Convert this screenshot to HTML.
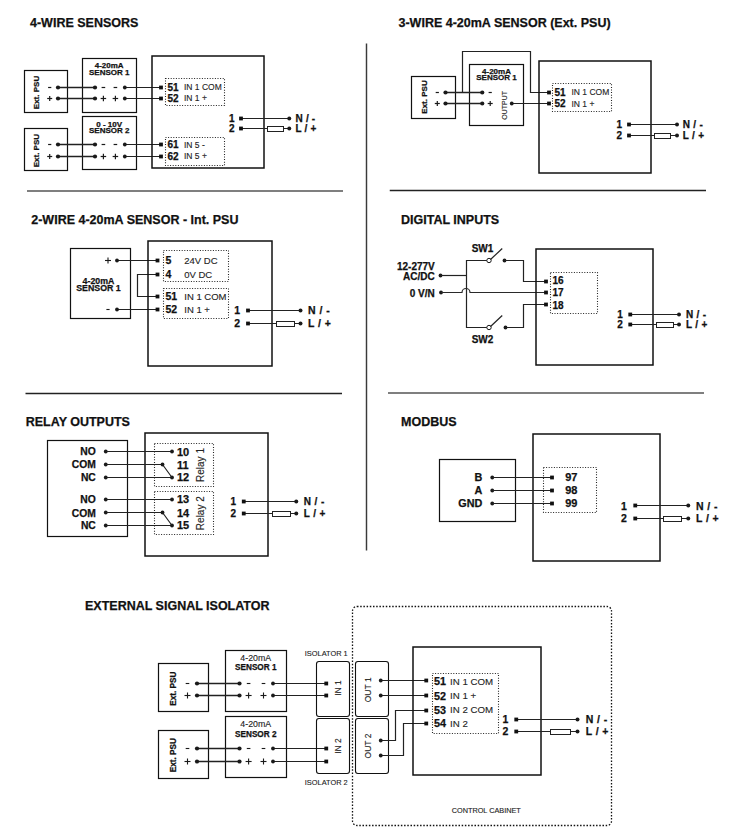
<!DOCTYPE html>
<html><head><meta charset="utf-8"><style>
html,body{margin:0;padding:0;background:#fff;}
body{width:732px;height:839px;overflow:hidden;}
svg{display:block;font-family:"Liberation Sans", sans-serif;}
</style></head><body>
<svg width="732" height="839" viewBox="0 0 732 839">
<text x="30" y="26.98" font-size="12.5" font-weight="bold" stroke="#111" stroke-width="0.25" fill="#111">4-WIRE SENSORS</text>
<rect x="24.5" y="70.5" width="43" height="42" fill="none" stroke="#111" stroke-width="1.2"/>
<text transform="translate(36.5,92.5) rotate(-90)" x="0" y="2.86" font-size="8" font-weight="bold" stroke="#111" stroke-width="0.25" text-anchor="middle" fill="#111">Ext. PSU</text>
<rect x="82.5" y="58.5" width="54" height="54" fill="none" stroke="#111" stroke-width="1.2"/>
<text x="109.2" y="68.46" font-size="8" font-weight="bold" stroke="#111" stroke-width="0.25" text-anchor="middle" fill="#111">4-20mA</text>
<text x="109.2" y="75.26" font-size="8" font-weight="bold" stroke="#111" stroke-width="0.25" text-anchor="middle" fill="#111">SENSOR 1</text>
<rect x="48.1" y="86.9" width="3.2" height="1.2" fill="#1a1a1a"/>
<rect x="47.2" y="97.9" width="5" height="1.2" fill="#1a1a1a"/>
<rect x="49.1" y="96" width="1.2" height="5" fill="#1a1a1a"/>
<rect x="101.6" y="86.9" width="3.6" height="1.2" fill="#1a1a1a"/>
<rect x="100.65" y="97.9" width="5.5" height="1.2" fill="#1a1a1a"/>
<rect x="102.8" y="95.75" width="1.2" height="5.5" fill="#1a1a1a"/>
<rect x="113.6" y="86.9" width="3.6" height="1.2" fill="#1a1a1a"/>
<rect x="112.65" y="97.9" width="5.5" height="1.2" fill="#1a1a1a"/>
<rect x="114.8" y="95.75" width="1.2" height="5.5" fill="#1a1a1a"/>
<polyline points="58,87.5 95,87.5" fill="none" stroke="#222" stroke-width="1.4" stroke-linejoin="miter"/>
<circle cx="58" cy="87.5" r="2.1" fill="#1a1a1a"/>
<circle cx="95" cy="87.5" r="2.1" fill="#1a1a1a"/>
<polyline points="124.8,87.5 161,87.5" fill="none" stroke="#222" stroke-width="1.2" stroke-linejoin="miter"/>
<circle cx="124.8" cy="87.5" r="1.9" fill="#1a1a1a"/>
<rect x="159.1" y="85.6" width="3.8" height="3.8" fill="#111"/>
<polyline points="58,98.5 95,98.5" fill="none" stroke="#222" stroke-width="1.4" stroke-linejoin="miter"/>
<circle cx="58" cy="98.5" r="2.1" fill="#1a1a1a"/>
<circle cx="95" cy="98.5" r="2.1" fill="#1a1a1a"/>
<polyline points="124.8,98.5 161,98.5" fill="none" stroke="#222" stroke-width="1.2" stroke-linejoin="miter"/>
<circle cx="124.8" cy="98.5" r="1.9" fill="#1a1a1a"/>
<rect x="159.1" y="96.6" width="3.8" height="3.8" fill="#111"/>
<rect x="165.5" y="78.5" width="59" height="27" fill="none" stroke="#222" stroke-width="1.1" stroke-dasharray="1 1.6"/>
<text x="167.5" y="90.88" font-size="10" font-weight="bold" stroke="#111" stroke-width="0.25" fill="#111">51</text>
<text x="184" y="90.34" font-size="8.5" stroke="#222" stroke-width="0.12" fill="#222">IN 1 COM</text>
<text x="167.5" y="101.58" font-size="10" font-weight="bold" stroke="#111" stroke-width="0.25" fill="#111">52</text>
<text x="184" y="101.04" font-size="8.5" stroke="#222" stroke-width="0.12" fill="#222">IN 1 +</text>
<rect x="24.5" y="128.5" width="43" height="42" fill="none" stroke="#111" stroke-width="1.2"/>
<text transform="translate(36.5,150.62) rotate(-90)" x="0" y="2.86" font-size="8" font-weight="bold" stroke="#111" stroke-width="0.25" text-anchor="middle" fill="#111">Ext. PSU</text>
<rect x="82.5" y="116.5" width="54" height="53" fill="none" stroke="#111" stroke-width="1.2"/>
<text x="109.2" y="127.06" font-size="8" font-weight="bold" stroke="#111" stroke-width="0.25" text-anchor="middle" fill="#111">0 - 10V</text>
<text x="109.2" y="133.26" font-size="8" font-weight="bold" stroke="#111" stroke-width="0.25" text-anchor="middle" fill="#111">SENSOR 2</text>
<rect x="48.1" y="143.9" width="3.2" height="1.2" fill="#1a1a1a"/>
<rect x="47.2" y="155.9" width="5" height="1.2" fill="#1a1a1a"/>
<rect x="49.1" y="154" width="1.2" height="5" fill="#1a1a1a"/>
<rect x="101.6" y="143.9" width="3.6" height="1.2" fill="#1a1a1a"/>
<rect x="100.65" y="155.9" width="5.5" height="1.2" fill="#1a1a1a"/>
<rect x="102.8" y="153.75" width="1.2" height="5.5" fill="#1a1a1a"/>
<rect x="113.6" y="143.9" width="3.6" height="1.2" fill="#1a1a1a"/>
<rect x="112.65" y="155.9" width="5.5" height="1.2" fill="#1a1a1a"/>
<rect x="114.8" y="153.75" width="1.2" height="5.5" fill="#1a1a1a"/>
<polyline points="58,144.5 95,144.5" fill="none" stroke="#222" stroke-width="1.4" stroke-linejoin="miter"/>
<circle cx="58" cy="144.5" r="2.1" fill="#1a1a1a"/>
<circle cx="95" cy="144.5" r="2.1" fill="#1a1a1a"/>
<polyline points="124.8,144.5 161,144.5" fill="none" stroke="#222" stroke-width="1.2" stroke-linejoin="miter"/>
<circle cx="124.8" cy="144.5" r="1.9" fill="#1a1a1a"/>
<rect x="159.1" y="142.6" width="3.8" height="3.8" fill="#111"/>
<polyline points="58,156.5 95,156.5" fill="none" stroke="#222" stroke-width="1.4" stroke-linejoin="miter"/>
<circle cx="58" cy="156.5" r="2.1" fill="#1a1a1a"/>
<circle cx="95" cy="156.5" r="2.1" fill="#1a1a1a"/>
<polyline points="124.8,156.5 161,156.5" fill="none" stroke="#222" stroke-width="1.2" stroke-linejoin="miter"/>
<circle cx="124.8" cy="156.5" r="1.9" fill="#1a1a1a"/>
<rect x="159.1" y="154.6" width="3.8" height="3.8" fill="#111"/>
<rect x="165.5" y="137.5" width="59" height="28" fill="none" stroke="#222" stroke-width="1.1" stroke-dasharray="1 1.6"/>
<text x="167.5" y="148.08" font-size="10" font-weight="bold" stroke="#111" stroke-width="0.25" fill="#111">61</text>
<text x="184" y="147.54" font-size="8.5" stroke="#222" stroke-width="0.12" fill="#222">IN 5 -</text>
<text x="167.5" y="159.58" font-size="10" font-weight="bold" stroke="#111" stroke-width="0.25" fill="#111">62</text>
<text x="184" y="159.04" font-size="8.5" stroke="#222" stroke-width="0.12" fill="#222">IN 5 +</text>
<rect x="152" y="56" width="112" height="112" fill="none" stroke="#111" stroke-width="1.5"/>
<text x="234.5" y="121.88" font-size="10" font-weight="bold" stroke="#111" stroke-width="0.25" text-anchor="end" fill="#111">1</text>
<polyline points="241,118.5 289.25,118.5" fill="none" stroke="#222" stroke-width="1.2" stroke-linejoin="miter"/>
<rect x="239.1" y="116.6" width="3.8" height="3.8" fill="#111"/>
<circle cx="289.25" cy="118.5" r="2" fill="#1a1a1a"/>
<text x="295.5" y="121.88" font-size="10" font-weight="bold" stroke="#111" stroke-width="0.25" fill="#111" letter-spacing="0.2">N / -</text>
<text x="234.5" y="132.38" font-size="10" font-weight="bold" stroke="#111" stroke-width="0.25" text-anchor="end" fill="#111">2</text>
<polyline points="241,128.5 289.25,128.5" fill="none" stroke="#222" stroke-width="1.2" stroke-linejoin="miter"/>
<rect x="239.1" y="126.6" width="3.8" height="3.8" fill="#111"/>
<rect x="267.5" y="126.5" width="16" height="5" fill="#fff" stroke="#222" stroke-width="1"/>
<circle cx="289.25" cy="128.5" r="2" fill="#1a1a1a"/>
<text x="295.5" y="132.38" font-size="10" font-weight="bold" stroke="#111" stroke-width="0.25" fill="#111" letter-spacing="0.2">L / +</text>
<polyline points="27,191 343,191" fill="none" stroke="#555" stroke-width="1.5" stroke-linejoin="miter"/>
<polyline points="366.5,43.5 366.5,550.5" fill="none" stroke="#3a3a3a" stroke-width="1.45" stroke-linejoin="miter"/>
<text x="398.5" y="26.98" font-size="12.5" font-weight="bold" stroke="#111" stroke-width="0.25" fill="#111">3-WIRE 4-20mA SENSOR (Ext. PSU)</text>
<rect x="411.5" y="76.5" width="44" height="42" fill="none" stroke="#111" stroke-width="1.2"/>
<text transform="translate(424,97) rotate(-90)" x="0" y="2.86" font-size="8" font-weight="bold" stroke="#111" stroke-width="0.25" text-anchor="middle" fill="#111">Ext. PSU</text>
<rect x="469.5" y="64.5" width="54" height="61" fill="none" stroke="#111" stroke-width="1.2"/>
<text x="496.5" y="74.36" font-size="8" font-weight="bold" stroke="#111" stroke-width="0.25" text-anchor="middle" fill="#111">4-20mA</text>
<text x="496.5" y="79.86" font-size="8" font-weight="bold" stroke="#111" stroke-width="0.25" text-anchor="middle" fill="#111">SENSOR 1</text>
<rect x="435.7" y="91.9" width="3.2" height="1.2" fill="#1a1a1a"/>
<rect x="434.8" y="102.9" width="5" height="1.2" fill="#1a1a1a"/>
<rect x="436.7" y="101" width="1.2" height="5" fill="#1a1a1a"/>
<rect x="488.6" y="91.9" width="3.2" height="1.2" fill="#1a1a1a"/>
<rect x="487.7" y="102.9" width="5" height="1.2" fill="#1a1a1a"/>
<rect x="489.6" y="101" width="1.2" height="5" fill="#1a1a1a"/>
<polyline points="445.5,92.5 482.25,92.5" fill="none" stroke="#222" stroke-width="1.4" stroke-linejoin="miter"/>
<polyline points="445.5,103.5 482.25,103.5" fill="none" stroke="#222" stroke-width="1.4" stroke-linejoin="miter"/>
<circle cx="445.5" cy="92.5" r="2.1" fill="#1a1a1a"/>
<circle cx="482.25" cy="92.5" r="2.1" fill="#1a1a1a"/>
<circle cx="445.5" cy="103.5" r="2.1" fill="#1a1a1a"/>
<circle cx="482.25" cy="103.5" r="2.1" fill="#1a1a1a"/>
<polyline points="462.5,92.5 462.5,51.5 530.5,51.5 530.5,92.5 549,92.5" fill="none" stroke="#222" stroke-width="1.2" stroke-linejoin="miter"/>
<text transform="translate(504.5,105.4) rotate(-90)" x="0" y="2.51" font-size="7" stroke="#222" stroke-width="0.12" text-anchor="middle" fill="#222">OUTPUT</text>
<polyline points="511.75,103.5 549,103.5" fill="none" stroke="#222" stroke-width="1.2" stroke-linejoin="miter"/>
<circle cx="511.75" cy="103.5" r="1.9" fill="#1a1a1a"/>
<rect x="547.1" y="90.6" width="3.8" height="3.8" fill="#111"/>
<rect x="547.1" y="101.6" width="3.8" height="3.8" fill="#111"/>
<rect x="539" y="61" width="112" height="112" fill="none" stroke="#111" stroke-width="1.5"/>
<rect x="552.5" y="83.5" width="59" height="28" fill="none" stroke="#222" stroke-width="1.1" stroke-dasharray="1 1.6"/>
<text x="554.5" y="95.98" font-size="10" font-weight="bold" stroke="#111" stroke-width="0.25" fill="#111">51</text>
<text x="571.5" y="95.44" font-size="8.5" stroke="#222" stroke-width="0.12" fill="#222">IN 1 COM</text>
<text x="554.5" y="107.18" font-size="10" font-weight="bold" stroke="#111" stroke-width="0.25" fill="#111">52</text>
<text x="571.5" y="106.64" font-size="8.5" stroke="#222" stroke-width="0.12" fill="#222">IN 1 +</text>
<text x="622" y="127.78" font-size="10" font-weight="bold" stroke="#111" stroke-width="0.25" text-anchor="end" fill="#111">1</text>
<polyline points="629,124.5 677,124.5" fill="none" stroke="#222" stroke-width="1.2" stroke-linejoin="miter"/>
<rect x="627.1" y="122.6" width="3.8" height="3.8" fill="#111"/>
<circle cx="677" cy="124.5" r="2" fill="#1a1a1a"/>
<text x="682.75" y="127.78" font-size="10" font-weight="bold" stroke="#111" stroke-width="0.25" fill="#111" letter-spacing="0.3">N / -</text>
<text x="622" y="139.08" font-size="10" font-weight="bold" stroke="#111" stroke-width="0.25" text-anchor="end" fill="#111">2</text>
<polyline points="629,135.5 677,135.5" fill="none" stroke="#222" stroke-width="1.2" stroke-linejoin="miter"/>
<rect x="627.1" y="133.6" width="3.8" height="3.8" fill="#111"/>
<rect x="654.5" y="133.5" width="16" height="5" fill="#fff" stroke="#222" stroke-width="1"/>
<circle cx="677" cy="135.5" r="2" fill="#1a1a1a"/>
<text x="682.75" y="139.08" font-size="10" font-weight="bold" stroke="#111" stroke-width="0.25" fill="#111" letter-spacing="0.3">L / +</text>
<polyline points="389.75,190.5 706,190.5" fill="none" stroke="#222" stroke-width="1.3" stroke-linejoin="miter"/>
<text x="31.25" y="224.07" font-size="12.5" font-weight="bold" stroke="#111" stroke-width="0.25" fill="#111">2-WIRE 4-20mA SENSOR - Int. PSU</text>
<rect x="70.5" y="248.5" width="60" height="70" fill="none" stroke="#111" stroke-width="1.2"/>
<text x="98.5" y="283.65" font-size="8.8" font-weight="bold" stroke="#111" stroke-width="0.25" text-anchor="middle" fill="#111">4-20mA</text>
<text x="98.5" y="291.15" font-size="8.8" font-weight="bold" stroke="#111" stroke-width="0.25" text-anchor="middle" fill="#111">SENSOR 1</text>
<rect x="106.4" y="308.95" width="3.2" height="1.1" fill="#1a1a1a"/>
<rect x="105" y="259.95" width="6" height="1.1" fill="#1a1a1a"/>
<rect x="107.45" y="257.5" width="1.1" height="6" fill="#1a1a1a"/>
<polyline points="117,260.5 157.5,260.5" fill="none" stroke="#222" stroke-width="1.2" stroke-linejoin="miter"/>
<circle cx="117" cy="260.5" r="1.9" fill="#1a1a1a"/>
<rect x="155.6" y="258.6" width="3.8" height="3.8" fill="#111"/>
<polyline points="117,309.5 157.5,309.5" fill="none" stroke="#222" stroke-width="1.2" stroke-linejoin="miter"/>
<circle cx="117" cy="309.5" r="1.9" fill="#1a1a1a"/>
<rect x="155.6" y="307.6" width="3.8" height="3.8" fill="#111"/>
<polyline points="157.5,274.5 137.5,274.5 137.5,296.5 157.5,296.5" fill="none" stroke="#222" stroke-width="1.2" stroke-linejoin="miter"/>
<rect x="155.6" y="272.6" width="3.8" height="3.8" fill="#111"/>
<rect x="155.6" y="294.6" width="3.8" height="3.8" fill="#111"/>
<rect x="148" y="241" width="124" height="125" fill="none" stroke="#111" stroke-width="1.5"/>
<rect x="163.5" y="250.5" width="65" height="31" fill="none" stroke="#222" stroke-width="1.1" stroke-dasharray="1 1.6"/>
<rect x="163.5" y="288.5" width="65" height="30" fill="none" stroke="#222" stroke-width="1.1" stroke-dasharray="1 1.6"/>
<text x="165.5" y="263.96" font-size="10.5" font-weight="bold" stroke="#111" stroke-width="0.25" fill="#111">5</text>
<text x="184.25" y="263.6" font-size="9.5" stroke="#222" stroke-width="0.12" fill="#222">24V DC</text>
<text x="165.5" y="277.96" font-size="10.5" font-weight="bold" stroke="#111" stroke-width="0.25" fill="#111">4</text>
<text x="184.25" y="277.6" font-size="9.5" stroke="#222" stroke-width="0.12" fill="#222">0V DC</text>
<text x="165.5" y="299.96" font-size="10.5" font-weight="bold" stroke="#111" stroke-width="0.25" fill="#111">51</text>
<text x="184.25" y="299.6" font-size="9.5" stroke="#222" stroke-width="0.12" fill="#222">IN 1 COM</text>
<text x="165.5" y="313.36" font-size="10.5" font-weight="bold" stroke="#111" stroke-width="0.25" fill="#111">52</text>
<text x="184.25" y="313" font-size="9.5" stroke="#222" stroke-width="0.12" fill="#222">IN 1 +</text>
<text x="240" y="314.26" font-size="10.5" font-weight="bold" stroke="#111" stroke-width="0.25" text-anchor="end" fill="#111">1</text>
<polyline points="248,310.5 300.5,310.5" fill="none" stroke="#222" stroke-width="1.2" stroke-linejoin="miter"/>
<rect x="246.1" y="308.6" width="3.8" height="3.8" fill="#111"/>
<circle cx="300.5" cy="310.5" r="2" fill="#1a1a1a"/>
<text x="308" y="314.26" font-size="10.5" font-weight="bold" stroke="#111" stroke-width="0.25" fill="#111" letter-spacing="0.45">N / -</text>
<text x="240" y="326.76" font-size="10.5" font-weight="bold" stroke="#111" stroke-width="0.25" text-anchor="end" fill="#111">2</text>
<polyline points="248,323.5 300.5,323.5" fill="none" stroke="#222" stroke-width="1.2" stroke-linejoin="miter"/>
<rect x="246.1" y="321.6" width="3.8" height="3.8" fill="#111"/>
<rect x="276.5" y="321.5" width="18" height="5" fill="#fff" stroke="#222" stroke-width="1"/>
<circle cx="300.5" cy="323.5" r="2" fill="#1a1a1a"/>
<text x="308" y="326.76" font-size="10.5" font-weight="bold" stroke="#111" stroke-width="0.25" fill="#111" letter-spacing="0.45">L / +</text>
<polyline points="25.5,393.5 342,393.5" fill="none" stroke="#222" stroke-width="1.3" stroke-linejoin="miter"/>
<text x="401" y="223.97" font-size="12.5" font-weight="bold" stroke="#111" stroke-width="0.25" fill="#111">DIGITAL INPUTS</text>
<text x="482.5" y="251.83" font-size="10" font-weight="bold" stroke="#111" stroke-width="0.25" text-anchor="middle" fill="#111">SW1</text>
<text x="482.5" y="343.08" font-size="10" font-weight="bold" stroke="#111" stroke-width="0.25" text-anchor="middle" fill="#111">SW2</text>
<text x="434.75" y="270.08" font-size="10" font-weight="bold" stroke="#111" stroke-width="0.25" text-anchor="end" fill="#111">12-277V</text>
<text x="434.75" y="280.08" font-size="10" font-weight="bold" stroke="#111" stroke-width="0.25" text-anchor="end" fill="#111">AC/DC</text>
<text x="434.75" y="296.88" font-size="10" font-weight="bold" stroke="#111" stroke-width="0.25" text-anchor="end" fill="#111">0 V/N</text>
<circle cx="440.5" cy="275.5" r="1.9" fill="#1a1a1a"/>
<polyline points="440.5,275.5 466,275.5" fill="none" stroke="#222" stroke-width="1.2" stroke-linejoin="miter"/>
<polyline points="488.5,260.5 466.5,260.5 466.5,327.5 488.5,327.5" fill="none" stroke="#222" stroke-width="1.2" stroke-linejoin="miter"/>
<circle cx="489" cy="260.5" r="2.2" fill="#fff" stroke="#1a1a1a" stroke-width="1"/>
<polyline points="490.5,259.5 502.25,248.5" fill="none" stroke="#222" stroke-width="1.2" stroke-linejoin="miter"/>
<circle cx="504.5" cy="260.5" r="1.9" fill="#1a1a1a"/>
<polyline points="504.5,260.5 523.5,260.5 523.5,281.5 546,281.5" fill="none" stroke="#222" stroke-width="1.2" stroke-linejoin="miter"/>
<circle cx="489" cy="327.5" r="2.2" fill="#fff" stroke="#1a1a1a" stroke-width="1"/>
<polyline points="490.5,326.5 502.25,315.5" fill="none" stroke="#222" stroke-width="1.2" stroke-linejoin="miter"/>
<circle cx="505.5" cy="327.5" r="1.9" fill="#1a1a1a"/>
<polyline points="505.5,327.5 523.5,327.5 523.5,304.5 546,304.5" fill="none" stroke="#222" stroke-width="1.2" stroke-linejoin="miter"/>
<circle cx="441" cy="292.5" r="1.9" fill="#1a1a1a"/>
<path d="M441,292.5 L462,292.5 A4,4 0 0 1 470,292.5 L546,292.5" fill="none" stroke="#2a2a2a" stroke-width="1.2"/>
<rect x="544.1" y="279.6" width="3.8" height="3.8" fill="#111"/>
<rect x="544.1" y="290.6" width="3.8" height="3.8" fill="#111"/>
<rect x="544.1" y="302.6" width="3.8" height="3.8" fill="#111"/>
<rect x="536" y="249" width="117" height="116" fill="none" stroke="#111" stroke-width="1.5"/>
<rect x="550.5" y="272.5" width="47" height="41" fill="none" stroke="#222" stroke-width="1.1" stroke-dasharray="1 1.6"/>
<text x="552.5" y="284.08" font-size="10" font-weight="bold" stroke="#111" stroke-width="0.25" fill="#111">16</text>
<text x="552.5" y="296.08" font-size="10" font-weight="bold" stroke="#111" stroke-width="0.25" fill="#111">17</text>
<text x="552.5" y="308.58" font-size="10" font-weight="bold" stroke="#111" stroke-width="0.25" fill="#111">18</text>
<text x="622.75" y="317.88" font-size="10" font-weight="bold" stroke="#111" stroke-width="0.25" text-anchor="end" fill="#111">1</text>
<polyline points="630.25,314.5 679,314.5" fill="none" stroke="#222" stroke-width="1.2" stroke-linejoin="miter"/>
<rect x="628.35" y="312.6" width="3.8" height="3.8" fill="#111"/>
<circle cx="679" cy="314.5" r="2" fill="#1a1a1a"/>
<text x="686" y="317.88" font-size="10" font-weight="bold" stroke="#111" stroke-width="0.25" fill="#111" letter-spacing="0.3">N / -</text>
<text x="622.75" y="328.38" font-size="10" font-weight="bold" stroke="#111" stroke-width="0.25" text-anchor="end" fill="#111">2</text>
<polyline points="630.25,324.5 679,324.5" fill="none" stroke="#222" stroke-width="1.2" stroke-linejoin="miter"/>
<rect x="628.35" y="322.6" width="3.8" height="3.8" fill="#111"/>
<rect x="656.5" y="322.5" width="17" height="5" fill="#fff" stroke="#222" stroke-width="1"/>
<circle cx="679" cy="324.5" r="2" fill="#1a1a1a"/>
<text x="686" y="328.38" font-size="10" font-weight="bold" stroke="#111" stroke-width="0.25" fill="#111" letter-spacing="0.3">L / +</text>
<polyline points="388,393 704,393" fill="none" stroke="#555" stroke-width="1.5" stroke-linejoin="miter"/>
<text x="25.75" y="426.08" font-size="12.5" font-weight="bold" stroke="#111" stroke-width="0.25" fill="#111">RELAY OUTPUTS</text>
<rect x="47.5" y="440.5" width="80" height="96" fill="none" stroke="#111" stroke-width="1.2"/>
<rect x="145" y="433" width="123" height="123" fill="none" stroke="#111" stroke-width="1.5"/>
<rect x="154.5" y="443.5" width="59" height="43" fill="none" stroke="#222" stroke-width="1.1" stroke-dasharray="1 1.6"/>
<rect x="154.5" y="491.5" width="59" height="43" fill="none" stroke="#222" stroke-width="1.1" stroke-dasharray="1 1.6"/>
<text x="95.75" y="455.39" font-size="10.3" font-weight="bold" stroke="#111" stroke-width="0.25" text-anchor="end" fill="#111">NO</text>
<circle cx="105.75" cy="451.5" r="1.9" fill="#1a1a1a"/>
<text x="177" y="455.64" font-size="11" font-weight="bold" stroke="#111" stroke-width="0.25" fill="#111">10</text>
<text x="95.75" y="468.49" font-size="10.3" font-weight="bold" stroke="#111" stroke-width="0.25" text-anchor="end" fill="#111">COM</text>
<circle cx="105.75" cy="464.5" r="1.9" fill="#1a1a1a"/>
<text x="177" y="468.74" font-size="11" font-weight="bold" stroke="#111" stroke-width="0.25" fill="#111">11</text>
<text x="95.75" y="480.99" font-size="10.3" font-weight="bold" stroke="#111" stroke-width="0.25" text-anchor="end" fill="#111">NC</text>
<circle cx="105.75" cy="477.5" r="1.9" fill="#1a1a1a"/>
<text x="177" y="481.24" font-size="11" font-weight="bold" stroke="#111" stroke-width="0.25" fill="#111">12</text>
<polyline points="105.75,451.5 172,451.5" fill="none" stroke="#222" stroke-width="1.2" stroke-linejoin="miter"/>
<circle cx="172" cy="451.5" r="1.9" fill="#1a1a1a"/>
<polyline points="105.75,464.5 162.5,464.5 172,477.5" fill="none" stroke="#222" stroke-width="1.2" stroke-linejoin="miter"/>
<circle cx="162.5" cy="464.5" r="1.9" fill="#1a1a1a"/>
<polyline points="105.75,477.5 172,477.5" fill="none" stroke="#222" stroke-width="1.2" stroke-linejoin="miter"/>
<circle cx="172" cy="477.5" r="1.9" fill="#1a1a1a"/>
<text x="95.75" y="503.19" font-size="10.3" font-weight="bold" stroke="#111" stroke-width="0.25" text-anchor="end" fill="#111">NO</text>
<circle cx="105.75" cy="499.5" r="1.9" fill="#1a1a1a"/>
<text x="177" y="503.44" font-size="11" font-weight="bold" stroke="#111" stroke-width="0.25" fill="#111">13</text>
<text x="95.75" y="516.59" font-size="10.3" font-weight="bold" stroke="#111" stroke-width="0.25" text-anchor="end" fill="#111">COM</text>
<circle cx="105.75" cy="512.5" r="1.9" fill="#1a1a1a"/>
<text x="177" y="516.84" font-size="11" font-weight="bold" stroke="#111" stroke-width="0.25" fill="#111">14</text>
<text x="95.75" y="528.89" font-size="10.3" font-weight="bold" stroke="#111" stroke-width="0.25" text-anchor="end" fill="#111">NC</text>
<circle cx="105.75" cy="525.5" r="1.9" fill="#1a1a1a"/>
<text x="177" y="529.14" font-size="11" font-weight="bold" stroke="#111" stroke-width="0.25" fill="#111">15</text>
<polyline points="105.75,499.5 172,499.5" fill="none" stroke="#222" stroke-width="1.2" stroke-linejoin="miter"/>
<circle cx="172" cy="499.5" r="1.9" fill="#1a1a1a"/>
<polyline points="105.75,512.5 162.5,512.5 172,525.5" fill="none" stroke="#222" stroke-width="1.2" stroke-linejoin="miter"/>
<circle cx="162.5" cy="512.5" r="1.9" fill="#1a1a1a"/>
<polyline points="105.75,525.5 172,525.5" fill="none" stroke="#222" stroke-width="1.2" stroke-linejoin="miter"/>
<circle cx="172" cy="525.5" r="1.9" fill="#1a1a1a"/>
<text transform="translate(200.75,465) rotate(-90)" x="0" y="3.58" font-size="10" stroke="#222" stroke-width="0.12" text-anchor="middle" fill="#222">Relay 1</text>
<text transform="translate(200.75,513.2) rotate(-90)" x="0" y="3.58" font-size="10" stroke="#222" stroke-width="0.12" text-anchor="middle" fill="#222">Relay 2</text>
<text x="236" y="505.08" font-size="10" font-weight="bold" stroke="#111" stroke-width="0.25" text-anchor="end" fill="#111">1</text>
<polyline points="243.75,501.5 296.25,501.5" fill="none" stroke="#222" stroke-width="1.2" stroke-linejoin="miter"/>
<rect x="241.85" y="499.6" width="3.8" height="3.8" fill="#111"/>
<circle cx="296.25" cy="501.5" r="2" fill="#1a1a1a"/>
<text x="303.75" y="505.08" font-size="10" font-weight="bold" stroke="#111" stroke-width="0.25" fill="#111" letter-spacing="0.4">N / -</text>
<text x="236" y="517.38" font-size="10" font-weight="bold" stroke="#111" stroke-width="0.25" text-anchor="end" fill="#111">2</text>
<polyline points="243.75,513.5 296.25,513.5" fill="none" stroke="#222" stroke-width="1.2" stroke-linejoin="miter"/>
<rect x="241.85" y="511.6" width="3.8" height="3.8" fill="#111"/>
<rect x="272.5" y="511.5" width="18" height="5" fill="#fff" stroke="#222" stroke-width="1"/>
<circle cx="296.25" cy="513.5" r="2" fill="#1a1a1a"/>
<text x="303.75" y="517.38" font-size="10" font-weight="bold" stroke="#111" stroke-width="0.25" fill="#111" letter-spacing="0.4">L / +</text>
<text x="401" y="425.98" font-size="12.5" font-weight="bold" stroke="#111" stroke-width="0.25" fill="#111">MODBUS</text>
<rect x="439.5" y="459.5" width="76" height="62" fill="none" stroke="#111" stroke-width="1.2"/>
<rect x="533" y="434" width="127" height="127" fill="none" stroke="#111" stroke-width="1.5"/>
<rect x="543.5" y="467.5" width="53" height="45" fill="none" stroke="#222" stroke-width="1.1" stroke-dasharray="1 1.6"/>
<text x="482.25" y="480.87" font-size="10.8" font-weight="bold" stroke="#111" stroke-width="0.25" text-anchor="end" fill="#111">B</text>
<circle cx="492.25" cy="477.5" r="1.9" fill="#1a1a1a"/>
<polyline points="492.25,477.5 552,477.5" fill="none" stroke="#222" stroke-width="1.2" stroke-linejoin="miter"/>
<rect x="550.1" y="475.6" width="3.8" height="3.8" fill="#111"/>
<text x="565.25" y="480.94" font-size="11" font-weight="bold" stroke="#111" stroke-width="0.25" fill="#111">97</text>
<text x="482.25" y="493.87" font-size="10.8" font-weight="bold" stroke="#111" stroke-width="0.25" text-anchor="end" fill="#111">A</text>
<circle cx="492.25" cy="490.5" r="1.9" fill="#1a1a1a"/>
<polyline points="492.25,490.5 552,490.5" fill="none" stroke="#222" stroke-width="1.2" stroke-linejoin="miter"/>
<rect x="550.1" y="488.6" width="3.8" height="3.8" fill="#111"/>
<text x="565.25" y="493.94" font-size="11" font-weight="bold" stroke="#111" stroke-width="0.25" fill="#111">98</text>
<text x="482.25" y="507.12" font-size="10.8" font-weight="bold" stroke="#111" stroke-width="0.25" text-anchor="end" fill="#111">GND</text>
<circle cx="492.25" cy="503.5" r="1.9" fill="#1a1a1a"/>
<polyline points="492.25,503.5 552,503.5" fill="none" stroke="#222" stroke-width="1.2" stroke-linejoin="miter"/>
<rect x="550.1" y="501.6" width="3.8" height="3.8" fill="#111"/>
<text x="565.25" y="507.19" font-size="11" font-weight="bold" stroke="#111" stroke-width="0.25" fill="#111">99</text>
<text x="626.75" y="509.56" font-size="10.5" font-weight="bold" stroke="#111" stroke-width="0.25" text-anchor="end" fill="#111">1</text>
<polyline points="635.25,505.5 688.25,505.5" fill="none" stroke="#222" stroke-width="1.2" stroke-linejoin="miter"/>
<rect x="633.35" y="503.6" width="3.8" height="3.8" fill="#111"/>
<circle cx="688.25" cy="505.5" r="2" fill="#1a1a1a"/>
<text x="696" y="509.56" font-size="10.5" font-weight="bold" stroke="#111" stroke-width="0.25" fill="#111" letter-spacing="0.4">N / -</text>
<text x="626.75" y="522.06" font-size="10.5" font-weight="bold" stroke="#111" stroke-width="0.25" text-anchor="end" fill="#111">2</text>
<polyline points="635.25,518.5 688.25,518.5" fill="none" stroke="#222" stroke-width="1.2" stroke-linejoin="miter"/>
<rect x="633.35" y="516.6" width="3.8" height="3.8" fill="#111"/>
<rect x="663.5" y="516.5" width="18" height="5" fill="#fff" stroke="#222" stroke-width="1"/>
<circle cx="688.25" cy="518.5" r="2" fill="#1a1a1a"/>
<text x="696" y="522.06" font-size="10.5" font-weight="bold" stroke="#111" stroke-width="0.25" fill="#111" letter-spacing="0.4">L / +</text>
<text x="85" y="609.98" font-size="12.5" font-weight="bold" stroke="#111" stroke-width="0.25" fill="#111">EXTERNAL SIGNAL ISOLATOR</text>
<rect x="352.5" y="606.5" width="259" height="219" rx="4.5" fill="none" stroke="#111" stroke-width="1.3" stroke-dasharray="1.5 1.7"/>
<text x="486.25" y="813.11" font-size="7.3" stroke="#222" stroke-width="0.12" text-anchor="middle" fill="#222">CONTROL CABINET</text>
<rect x="158.5" y="663.5" width="50" height="48" fill="none" stroke="#111" stroke-width="1.2"/>
<text transform="translate(173,688.75) rotate(-90)" x="0" y="2.94" font-size="8.2" font-weight="bold" stroke="#111" stroke-width="0.25" text-anchor="middle" fill="#111">Ext. PSU</text>
<rect x="225.5" y="650.5" width="61" height="61" fill="none" stroke="#111" stroke-width="1.2"/>
<text x="255.75" y="661.4" font-size="8.8" stroke="#222" stroke-width="0.12" text-anchor="middle" fill="#222">4-20mA</text>
<text x="255.75" y="669.89" font-size="8.2" font-weight="bold" stroke="#111" stroke-width="0.25" text-anchor="middle" fill="#111">SENSOR 1</text>
<rect x="185.7" y="682.95" width="3.6" height="1.1" fill="#1a1a1a"/>
<rect x="184.5" y="694.95" width="6" height="1.1" fill="#1a1a1a"/>
<rect x="186.95" y="692.5" width="1.1" height="6" fill="#1a1a1a"/>
<rect x="246.8" y="682.95" width="3.6" height="1.1" fill="#1a1a1a"/>
<rect x="245.6" y="694.95" width="6" height="1.1" fill="#1a1a1a"/>
<rect x="248.05" y="692.5" width="1.1" height="6" fill="#1a1a1a"/>
<rect x="261.7" y="682.95" width="3.6" height="1.1" fill="#1a1a1a"/>
<rect x="260.5" y="694.95" width="6" height="1.1" fill="#1a1a1a"/>
<rect x="262.95" y="692.5" width="1.1" height="6" fill="#1a1a1a"/>
<polyline points="197,683.5 239.5,683.5" fill="none" stroke="#222" stroke-width="1.4" stroke-linejoin="miter"/>
<circle cx="197" cy="683.5" r="2.1" fill="#1a1a1a"/>
<circle cx="239.5" cy="683.5" r="2.1" fill="#1a1a1a"/>
<polyline points="273,683.5 326.25,683.5" fill="none" stroke="#222" stroke-width="1.2" stroke-linejoin="miter"/>
<circle cx="273" cy="683.5" r="1.9" fill="#1a1a1a"/>
<rect x="324.35" y="681.6" width="3.8" height="3.8" fill="#111"/>
<polyline points="197,695.5 239.5,695.5" fill="none" stroke="#222" stroke-width="1.4" stroke-linejoin="miter"/>
<circle cx="197" cy="695.5" r="2.1" fill="#1a1a1a"/>
<circle cx="239.5" cy="695.5" r="2.1" fill="#1a1a1a"/>
<polyline points="273,695.5 326.25,695.5" fill="none" stroke="#222" stroke-width="1.2" stroke-linejoin="miter"/>
<circle cx="273" cy="695.5" r="1.9" fill="#1a1a1a"/>
<rect x="324.35" y="693.6" width="3.8" height="3.8" fill="#111"/>
<rect x="316.5" y="661.5" width="33" height="55" fill="none" stroke="#111" stroke-width="1.1" rx="2.5"/>
<rect x="355.5" y="661.5" width="33" height="55" fill="none" stroke="#111" stroke-width="1.1" rx="2.5"/>
<text x="326.25" y="655.9" font-size="7.4" stroke="#222" stroke-width="0.12" text-anchor="middle" fill="#222">ISOLATOR 1</text>
<rect x="158.5" y="730.5" width="50" height="48" fill="none" stroke="#111" stroke-width="1.2"/>
<text transform="translate(173,755.12) rotate(-90)" x="0" y="2.94" font-size="8.2" font-weight="bold" stroke="#111" stroke-width="0.25" text-anchor="middle" fill="#111">Ext. PSU</text>
<rect x="225.5" y="716.5" width="61" height="61" fill="none" stroke="#111" stroke-width="1.2"/>
<text x="255.75" y="727.4" font-size="8.8" stroke="#222" stroke-width="0.12" text-anchor="middle" fill="#222">4-20mA</text>
<text x="255.75" y="737.29" font-size="8.2" font-weight="bold" stroke="#111" stroke-width="0.25" text-anchor="middle" fill="#111">SENSOR 2</text>
<rect x="185.7" y="747.95" width="3.6" height="1.1" fill="#1a1a1a"/>
<rect x="184.5" y="760.95" width="6" height="1.1" fill="#1a1a1a"/>
<rect x="186.95" y="758.5" width="1.1" height="6" fill="#1a1a1a"/>
<rect x="246.8" y="747.95" width="3.6" height="1.1" fill="#1a1a1a"/>
<rect x="245.6" y="760.95" width="6" height="1.1" fill="#1a1a1a"/>
<rect x="248.05" y="758.5" width="1.1" height="6" fill="#1a1a1a"/>
<rect x="261.7" y="747.95" width="3.6" height="1.1" fill="#1a1a1a"/>
<rect x="260.5" y="760.95" width="6" height="1.1" fill="#1a1a1a"/>
<rect x="262.95" y="758.5" width="1.1" height="6" fill="#1a1a1a"/>
<polyline points="197,748.5 239.5,748.5" fill="none" stroke="#222" stroke-width="1.4" stroke-linejoin="miter"/>
<circle cx="197" cy="748.5" r="2.1" fill="#1a1a1a"/>
<circle cx="239.5" cy="748.5" r="2.1" fill="#1a1a1a"/>
<polyline points="273,748.5 326.25,748.5" fill="none" stroke="#222" stroke-width="1.2" stroke-linejoin="miter"/>
<circle cx="273" cy="748.5" r="1.9" fill="#1a1a1a"/>
<rect x="324.35" y="746.6" width="3.8" height="3.8" fill="#111"/>
<polyline points="197,761.5 239.5,761.5" fill="none" stroke="#222" stroke-width="1.4" stroke-linejoin="miter"/>
<circle cx="197" cy="761.5" r="2.1" fill="#1a1a1a"/>
<circle cx="239.5" cy="761.5" r="2.1" fill="#1a1a1a"/>
<polyline points="273,761.5 326.25,761.5" fill="none" stroke="#222" stroke-width="1.2" stroke-linejoin="miter"/>
<circle cx="273" cy="761.5" r="1.9" fill="#1a1a1a"/>
<rect x="324.35" y="759.6" width="3.8" height="3.8" fill="#111"/>
<rect x="316.5" y="718.5" width="33" height="55" fill="none" stroke="#111" stroke-width="1.1" rx="2.5"/>
<rect x="355.5" y="718.5" width="33" height="55" fill="none" stroke="#111" stroke-width="1.1" rx="2.5"/>
<text x="326.25" y="784.65" font-size="7.4" stroke="#222" stroke-width="0.12" text-anchor="middle" fill="#222">ISOLATOR 2</text>
<text transform="translate(337.5,688) rotate(-90)" x="0" y="3.04" font-size="8.5" stroke="#222" stroke-width="0.12" text-anchor="middle" fill="#222">IN 1</text>
<text transform="translate(367.5,689.8) rotate(-90)" x="0" y="3.04" font-size="8.5" stroke="#222" stroke-width="0.12" text-anchor="middle" fill="#222">OUT 1</text>
<text transform="translate(337.5,746) rotate(-90)" x="0" y="3.04" font-size="8.5" stroke="#222" stroke-width="0.12" text-anchor="middle" fill="#222">IN 2</text>
<text transform="translate(367.5,746) rotate(-90)" x="0" y="3.04" font-size="8.5" stroke="#222" stroke-width="0.12" text-anchor="middle" fill="#222">OUT 2</text>
<polyline points="380.75,680.5 426.25,680.5" fill="none" stroke="#222" stroke-width="1.2" stroke-linejoin="miter"/>
<circle cx="380.75" cy="680.5" r="1.9" fill="#1a1a1a"/>
<polyline points="380.75,695.5 426.25,695.5" fill="none" stroke="#222" stroke-width="1.2" stroke-linejoin="miter"/>
<circle cx="380.75" cy="695.5" r="1.9" fill="#1a1a1a"/>
<polyline points="380.75,740.5 395.5,740.5 395.5,710.5 426.25,710.5" fill="none" stroke="#222" stroke-width="1.2" stroke-linejoin="miter"/>
<circle cx="380.75" cy="740.5" r="1.9" fill="#1a1a1a"/>
<polyline points="380.75,755.5 403.5,755.5 403.5,723.5 426.25,723.5" fill="none" stroke="#222" stroke-width="1.2" stroke-linejoin="miter"/>
<circle cx="380.75" cy="755.5" r="1.9" fill="#1a1a1a"/>
<rect x="424.35" y="678.6" width="3.8" height="3.8" fill="#111"/>
<rect x="424.35" y="693.6" width="3.8" height="3.8" fill="#111"/>
<rect x="424.35" y="708.6" width="3.8" height="3.8" fill="#111"/>
<rect x="424.35" y="721.6" width="3.8" height="3.8" fill="#111"/>
<rect x="413" y="647" width="128" height="128" fill="none" stroke="#111" stroke-width="1.5"/>
<rect x="432.5" y="673.5" width="66" height="60" fill="none" stroke="#222" stroke-width="1.1" stroke-dasharray="1 1.6"/>
<text x="434" y="685.37" font-size="10.8" font-weight="bold" stroke="#111" stroke-width="0.25" fill="#111">51</text>
<text x="450" y="684.97" font-size="9.7" stroke="#222" stroke-width="0.12" fill="#222">IN 1 COM</text>
<text x="434" y="699.57" font-size="10.8" font-weight="bold" stroke="#111" stroke-width="0.25" fill="#111">52</text>
<text x="450" y="699.17" font-size="9.7" stroke="#222" stroke-width="0.12" fill="#222">IN 1 +</text>
<text x="434" y="713.57" font-size="10.8" font-weight="bold" stroke="#111" stroke-width="0.25" fill="#111">53</text>
<text x="450" y="713.17" font-size="9.7" stroke="#222" stroke-width="0.12" fill="#222">IN 2 COM</text>
<text x="434" y="727.07" font-size="10.8" font-weight="bold" stroke="#111" stroke-width="0.25" fill="#111">54</text>
<text x="450" y="726.67" font-size="9.7" stroke="#222" stroke-width="0.12" fill="#222">IN 2</text>
<text x="508.25" y="722.76" font-size="10.5" font-weight="bold" stroke="#111" stroke-width="0.25" text-anchor="end" fill="#111">1</text>
<polyline points="516.25,719.5 577.5,719.5" fill="none" stroke="#222" stroke-width="1.2" stroke-linejoin="miter"/>
<rect x="514.35" y="717.6" width="3.8" height="3.8" fill="#111"/>
<circle cx="577.5" cy="719.5" r="2" fill="#1a1a1a"/>
<text x="585.75" y="722.76" font-size="10.5" font-weight="bold" stroke="#111" stroke-width="0.25" fill="#111" letter-spacing="0.4">N / -</text>
<text x="508.25" y="735.06" font-size="10.5" font-weight="bold" stroke="#111" stroke-width="0.25" text-anchor="end" fill="#111">2</text>
<polyline points="516.25,731.5 577.5,731.5" fill="none" stroke="#222" stroke-width="1.2" stroke-linejoin="miter"/>
<rect x="514.35" y="729.6" width="3.8" height="3.8" fill="#111"/>
<rect x="550.5" y="729.5" width="20" height="5" fill="#fff" stroke="#222" stroke-width="1"/>
<circle cx="577.5" cy="731.5" r="2" fill="#1a1a1a"/>
<text x="585.75" y="735.06" font-size="10.5" font-weight="bold" stroke="#111" stroke-width="0.25" fill="#111" letter-spacing="0.4">L / +</text>
</svg>
</body></html>
